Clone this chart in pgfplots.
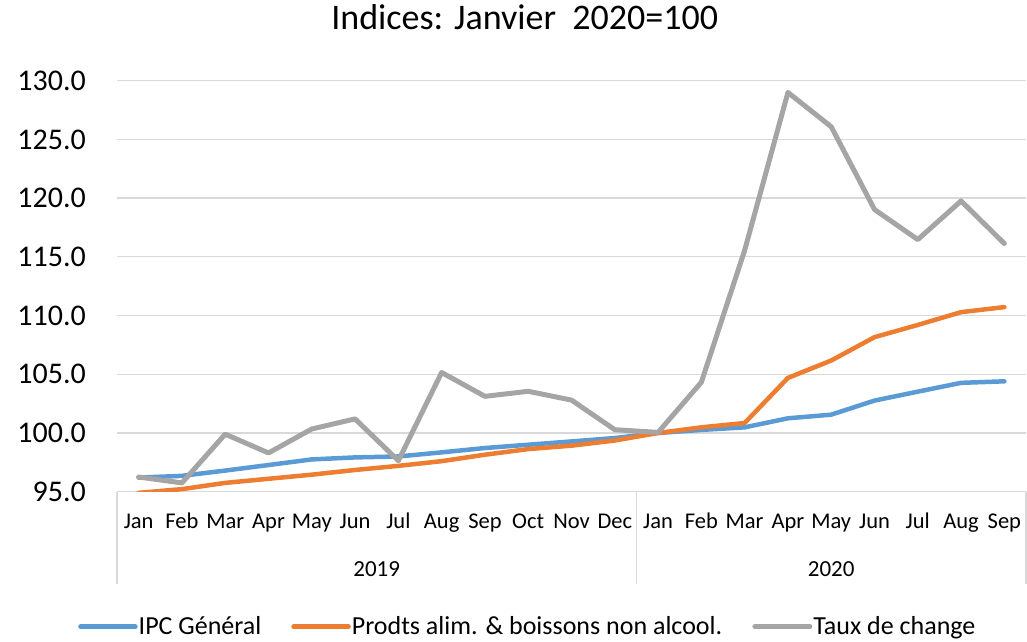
\documentclass[border=0pt]{standalone}
\usepackage{pgfplots}
\pgfplotsset{compat=1.18}
\usepackage{fontspec}
\setmainfont{Carlito}
\definecolor{cblue}{HTML}{5B9BD5}
\definecolor{corange}{HTML}{ED7D31}
\definecolor{cgray}{HTML}{A5A5A5}
\definecolor{cgrid}{HTML}{D9D9D9}
\begin{document}
\begin{tikzpicture}
\path[use as bounding box] (0,0) rectangle (1027bp,642bp);
\begin{axis}[
  at={(117bp,150.3bp)}, anchor=south west,
  scale only axis, width=909bp, height=411bp,
  xmin=-0.5, xmax=20.5, ymin=95, ymax=130,
  axis line style={draw=none},
  major tick length=0pt,
  ymajorgrids, grid style={cgrid, line width=1.3bp},
  ytick={95,100,...,130},
  xtick={0,...,20},
  xticklabels={Jan,Feb,Mar,Apr,May,Jun,Jul,Aug,Sep,Oct,Nov,Dec,Jan,Feb,Mar,Apr,May,Jun,Jul,Aug,Sep},
  /pgf/number format/fixed, /pgf/number format/fixed zerofill,
  /pgf/number format/precision=1, /pgf/number format/assume math mode=true,
  yticklabel style={font=\fontsize{30bp}{36bp}\selectfont, inner sep=0pt, xshift=-31bp},
  xticklabel style={font=\fontsize{22.5bp}{27bp}\selectfont, anchor=base, inner sep=0pt, yshift=-37bp},
  clip mode=individual,
  title={Indices: Janvier~~2020=100},
  title style={at={(axis description cs:0.4485,1)}, anchor=base, inner sep=0pt, yshift=45.7bp, font=\fontsize{36bp}{43bp}\selectfont},
  legend style={at={(axis description cs:-0.0429,-0.3285)}, anchor=west, draw=none, fill=none, inner sep=0pt,
    font=\fontsize{26bp}{31bp}\selectfont, /tikz/every even column/.append style={column sep=29bp},
    nodes={inner sep=1bp}},
  legend columns=3,
  legend image code/.code={\draw[#1] (0bp,0bp) -- (55bp,0bp);},
  every axis plot/.append style={line join=round, line cap=round},
]
\addplot[cblue, line width=4.5bp] coordinates {
(0,96.2) (1,96.35) (2,96.8) (3,97.27) (4,97.75) (5,97.92) (6,98.0) (7,98.35) (8,98.72) (9,99.0) (10,99.28) (11,99.57)
(12,100.0) (13,100.26) (14,100.48) (15,101.25) (16,101.56) (17,102.76) (18,103.52) (19,104.27) (20,104.4)};
\addlegendentry{IPC Général}
\addplot[corange, line width=4.5bp] coordinates {
(0,94.9) (1,95.22) (2,95.75) (3,96.1) (4,96.45) (5,96.85) (6,97.2) (7,97.6) (8,98.15) (9,98.63) (10,98.92) (11,99.36)
(12,100.0) (13,100.48) (14,100.85) (15,104.69) (16,106.17) (17,108.16) (18,109.2) (19,110.29) (20,110.72)};
\addlegendentry{Prodts alim. \& boissons non alcool.}
\addplot[cgray, line width=5bp] coordinates {
(0,96.25) (1,95.75) (2,99.9) (3,98.3) (4,100.34) (5,101.2) (6,97.64) (7,105.15) (8,103.12) (9,103.55) (10,102.8) (11,100.28)
(12,100.05) (13,104.32) (14,115.55) (15,129.0) (16,126.08) (17,119.03) (18,116.47) (19,119.76) (20,116.13)};
\addlegendentry{Taux de change}
\draw[cgrid, line width=1.3bp] (axis cs:-0.5,95) -- ([yshift=-92bp]axis cs:-0.5,95);
\draw[cgrid, line width=1.3bp] (axis cs:11.5,95) -- ([yshift=-92bp]axis cs:11.5,95);
\draw[cgrid, line width=1.3bp] (axis cs:20.5,95) -- ([yshift=-92bp]axis cs:20.5,95);
\node[anchor=base, inner sep=0pt, font=\fontsize{23bp}{28bp}\selectfont] at ([yshift=-84.3bp]axis cs:5.5,95) {2019};
\node[anchor=base, inner sep=0pt, font=\fontsize{23bp}{28bp}\selectfont] at ([yshift=-84.3bp]axis cs:16,95) {2020};
\end{axis}
\end{tikzpicture}
\end{document}
